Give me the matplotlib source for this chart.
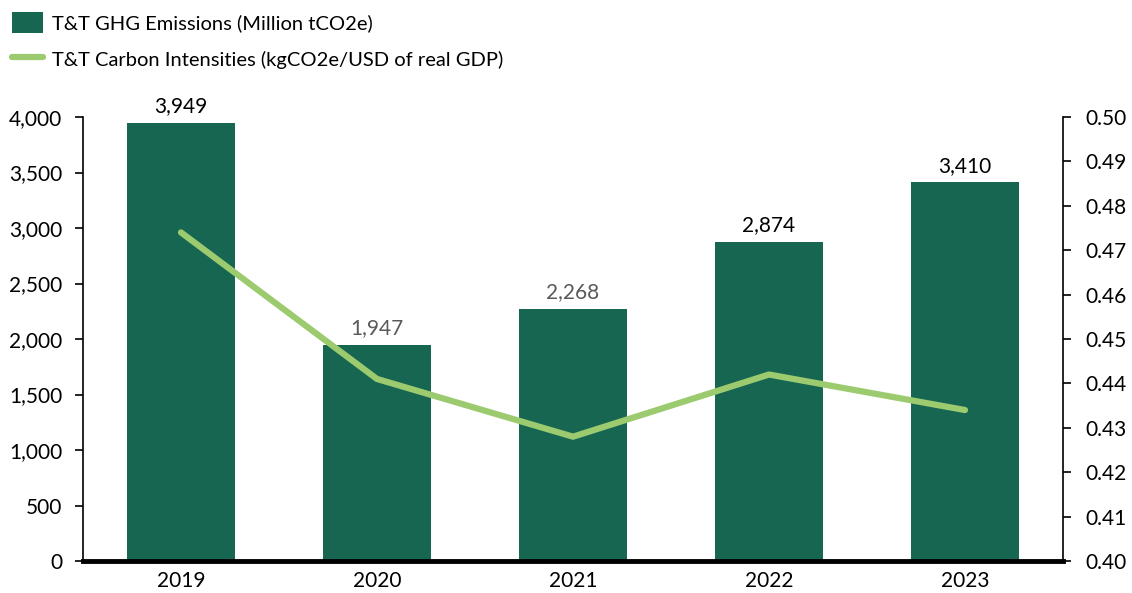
import matplotlib
matplotlib.use("Agg")
import matplotlib.pyplot as plt
from matplotlib.patches import Patch
from matplotlib.lines import Line2D

plt.rcParams['font.family'] = ['Lato', 'DejaVu Sans']

years = ["2019", "2020", "2021", "2022", "2023"]
emissions = [3949, 1947, 2268, 2874, 3410]
intensity = [0.474, 0.441, 0.428, 0.442, 0.434]
label_colors = ["#000000", "#595959", "#595959", "#000000", "#000000"]
left_ticks = [0, 500, 1000, 1500, 2000, 2500, 3000, 3500, 4000]
right_ticks = [0.40, 0.41, 0.42, 0.43, 0.44, 0.45, 0.46, 0.47, 0.48, 0.49, 0.50]

bar_color = "#176652"
line_color = "#9BCB6E"
num_size = 15
legend_size = 14.5

fig = plt.figure(figsize=(11.32, 5.93), dpi=100)
ax = fig.add_axes([83 / 1132, 32 / 593, 980 / 1132, 444 / 593])
x = list(range(len(years)))
ax.bar(x, emissions, width=0.555, color=bar_color, zorder=2)

for xi, v, c in zip(x, emissions, label_colors):
    ax.text(xi, v + 60, f"{v:,}", ha="center", va="bottom", fontsize=num_size, color=c)

ax.set_xlim(-0.5, len(years) - 0.5)
ax.set_ylim(0, 4000)
ax.set_yticks(left_ticks)
ax.set_yticklabels([f"{t:,}" for t in left_ticks])
ax.set_xticks(x)
ax.set_xticklabels(years)
ax.tick_params(axis="y", direction="out", length=6, width=1.2, labelsize=num_size, pad=9)
ax.tick_params(axis="x", length=0, labelsize=num_size, pad=7)
for s in ["top", "right"]:
    ax.spines[s].set_visible(False)
ax.spines["left"].set_linewidth(1.2)
ax.spines["bottom"].set_linewidth(3.5)
ax.spines["bottom"].set_zorder(5)

ax2 = ax.twinx()
ax2.plot(x, intensity, color=line_color, linewidth=4.5, solid_capstyle="round", zorder=3)
ax2.set_ylim(0.40, 0.50)
ax2.set_yticks(right_ticks)
ax2.set_yticklabels([f"{t:.2f}" for t in right_ticks])
ax2.tick_params(axis="y", direction="out", length=6, width=1.2, labelsize=num_size, pad=10)
for s in ["top", "left", "bottom"]:
    ax2.spines[s].set_visible(False)
ax2.spines["right"].set_linewidth(1.2)

handles = [
    Patch(facecolor=bar_color, edgecolor="none"),
    Line2D([0], [0], color=line_color, linewidth=4.5, solid_capstyle="round"),
]
labels = ["T&T GHG Emissions (Million tCO2e)",
          "T&T Carbon Intensities (kgCO2e/USD of real GDP)"]
fig.legend(handles, labels, loc="upper left", bbox_to_anchor=(0.0, 1.0),
           frameon=False, fontsize=legend_size, handlelength=1.55, handleheight=1.2,
           handletextpad=0.45, labelspacing=0.8, borderaxespad=0.45,
           borderpad=0.15)

fig.savefig("out.png", dpi=100)
